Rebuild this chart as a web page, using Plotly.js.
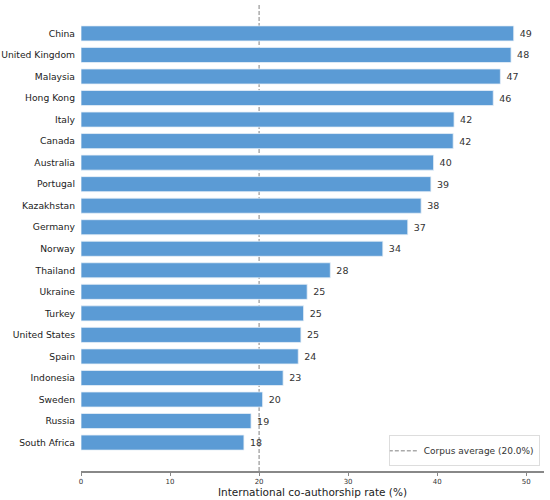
<!DOCTYPE html>
<html>
<head>
<meta charset="utf-8">
<script src="https://cdn.plot.ly/plotly-3.0.1.min.js"></script>
<style>html,body{margin:0;padding:0;background:#fff;}#chart{width:550px;height:500px;}</style>
</head>
<body>
<div id="chart"></div>
<script>
var countries = ["China","United Kingdom","Malaysia","Hong Kong","Italy","Canada","Australia","Portugal","Kazakhstan","Germany","Norway","Thailand","Ukraine","Turkey","United States","Spain","Indonesia","Sweden","Russia","South Africa"];
var rates = [48.6,48.3,47.1,46.3,41.9,41.8,39.6,39.3,38.2,36.7,33.9,28.0,25.4,25.0,24.7,24.4,22.7,20.4,19.1,18.3];
var corpusAverage = 20.0;
var xTicks = [0,10,20,30,40,50];

var labels = rates.map(function(v){ return " " + Math.round(v); });
var font = "DejaVu Sans, sans-serif";
var avgColor = "#808080";
var avgDash = "4px,2px";

var bars = {
  type: "bar",
  orientation: "h",
  y: countries,
  x: rates,
  text: labels,
  textposition: "outside",
  cliponaxis: false,
  textfont: {family: font, size: 9.5, color: "#333"},
  marker: {color: "#5b9bd5", line: {color: "#e8f0f8", width: 0.8}},
  showlegend: false,
  hoverinfo: "skip"
};

// legend entry for the average line (line itself is a shape drawn below the bars)
var avgLegend = {
  type: "scatter",
  mode: "lines",
  x: [null],
  y: [null],
  line: {color: avgColor, width: 1, dash: avgDash},
  name: "Corpus average (" + corpusAverage.toFixed(1) + "%)",
  showlegend: true,
  hoverinfo: "skip"
};

var layout = {
  width: 550,
  height: 500,
  margin: {l: 81, r: 6, t: 5, b: 29, pad: 0},
  paper_bgcolor: "#fff",
  plot_bgcolor: "#fff",
  font: {family: font, color: "#222"},
  bargap: 0.3,
  showlegend: true,
  legend: {
    x: 0.991, y: 0.01, xanchor: "right", yanchor: "bottom",
    bgcolor: "rgba(255,255,255,0.9)", bordercolor: "#dddddd", borderwidth: 1,
    font: {family: font, size: 9, color: "#333"},
    itemwidth: 30,
    indentation: -6
  },
  shapes: [{
    type: "line",
    layer: "below",
    xref: "x", yref: "paper",
    x0: corpusAverage, x1: corpusAverage, y0: 0, y1: 1,
    line: {color: avgColor, width: 1, dash: avgDash}
  }],
  xaxis: {
    range: [0, 52],
    tickvals: xTicks,
    ticktext: xTicks.map(String),
    showgrid: false,
    zeroline: false,
    showline: true,
    linecolor: "#888",
    linewidth: 1.5,
    ticks: "outside",
    ticklen: 3,
    tickcolor: "#888",
    tickfont: {family: font, size: 7, color: "#333"},
    title: {text: "International co-authorship rate (%)", font: {family: font, size: 10.5, color: "#222"}, standoff: 1}
  },
  yaxis: {
    type: "category",
    range: [20.32, -1.32],
    showgrid: false,
    zeroline: false,
    showline: false,
    ticks: "",
    ticklabelstandoff: 5,
    tickfont: {family: font, size: 9.2, color: "#222"}
  }
};

Plotly.newPlot("chart", [bars, avgLegend], layout, {staticPlot: true, displayModeBar: false});
</script>
</body>
</html>
